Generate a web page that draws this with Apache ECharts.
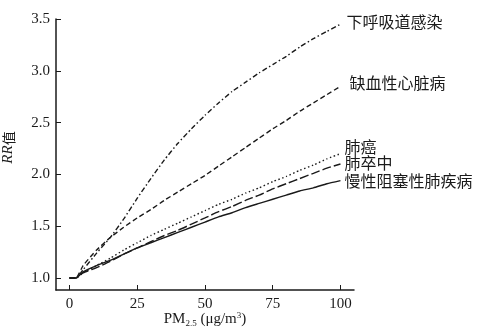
<!DOCTYPE html>
<html>
<head>
<meta charset="utf-8">
<script src="https://cdn.jsdelivr.net/npm/echarts@6/dist/echarts.min.js"></script>
<style>
  html, body { margin: 0; padding: 0; background: #fff; }
  #chart { width: 488px; height: 335px; }
</style>
</head>
<body>
<div id="chart"></div>
<script>
// PM2.5 浓度（μg/m3）
const pm25 = [0, 2.4, 5, 10, 15, 20, 25, 30, 35, 40, 45, 50, 55, 60, 65, 70, 75, 80, 85, 90, 95, 100];
// 各疾病 RR 值
const lri = [1.0, 1.0, 1.08, 1.24, 1.39, 1.57, 1.77, 1.96, 2.14, 2.30, 2.44, 2.57, 2.69, 2.80, 2.89, 2.98, 3.06, 3.14, 3.23, 3.31, 3.38, 3.45];
const ihd = [1.0, 1.0, 1.12, 1.27, 1.39, 1.49, 1.58, 1.66, 1.75, 1.83, 1.91, 1.99, 2.08, 2.17, 2.26, 2.35, 2.44, 2.52, 2.61, 2.69, 2.77, 2.85];
const lungCancer = [1.0, 1.0, 1.05, 1.12, 1.19, 1.27, 1.34, 1.41, 1.47, 1.53, 1.59, 1.65, 1.71, 1.76, 1.82, 1.87, 1.93, 1.98, 2.04, 2.09, 2.15, 2.20];
const stroke = [1.0, 1.0, 1.05, 1.10, 1.16, 1.23, 1.29, 1.35, 1.41, 1.46, 1.52, 1.58, 1.64, 1.69, 1.75, 1.80, 1.86, 1.91, 1.96, 2.01, 2.06, 2.10];
const copd = [1.0, 1.0, 1.06, 1.12, 1.17, 1.23, 1.29, 1.34, 1.39, 1.44, 1.49, 1.54, 1.59, 1.63, 1.68, 1.72, 1.76, 1.80, 1.84, 1.87, 1.91, 1.94];
const names = ['下呼吸道感染', '缺血性心脏病', '肺癌', '肺卒中', '慢性阻塞性肺疾病'];
const xTicks = [0, 25, 50, 75, 100];
const yTicks = [1.0, 1.5, 2.0, 2.5, 3.0, 3.5];

const ink = '#1a1a1a';
const serif = '"Liberation Serif", "DejaVu Serif", serif';
const cjk = '"Noto Sans CJK SC", sans-serif';

function pairs (ys) {
  return pm25.map((x, i) => [x, ys[i]]);
}

function makeLine (name, ys, dash, width, offset) {
  return {
    name: name,
    type: 'line',
    smooth: 0.15,
    symbol: 'none',
    data: pairs(ys),
    lineStyle: { color: ink, width: width, type: dash },
    endLabel: {
      show: true,
      formatter: '{a}',
      distance: 4,
      offset: offset,
      color: ink,
      fontFamily: cjk,
      fontSize: 16
    }
  };
}

let myChart = echarts.init(document.getElementById('chart'));
myChart.setOption({
  backgroundColor: '#fff',
  animation: false,
  grid: { left: 56, right: 134, top: 19, bottom: 45, outerBoundsMode: 'none' },
  xAxis: {
    type: 'value',
    min: -5,
    max: 105,
    name: '{a|PM}{sub|2.5}{a| (μg/m}{sup|3}{a|)}',
    nameLocation: 'middle',
    nameGap: 21,
    nameMoveOverlap: false,
    nameTextStyle: {
      rich: {
        a: { fontFamily: serif, fontSize: 15, color: ink },
        sub: { fontFamily: serif, fontSize: 9, color: ink, padding: [8, 0, 0, 0] },
        sup: { fontFamily: serif, fontSize: 9, color: ink, padding: [0, 0, 7, 0] }
      }
    },
    splitLine: { show: false },
    axisLine: { onZero: false, lineStyle: { color: ink, width: 1.5 } },
    axisTick: { inside: true, length: 5, lineStyle: { color: ink }, customValues: xTicks },
    axisLabel: { color: ink, fontFamily: serif, fontSize: 15, margin: 7, customValues: xTicks }
  },
  yAxis: {
    type: 'value',
    min: 0.884,
    max: 3.5,
    name: '{i|RR}{c|值}',
    nameLocation: 'middle',
    nameRotate: 90,
    nameGap: 40,
    nameMoveOverlap: false,
    nameTextStyle: {
      padding: [0, 0, 0, 14],
      rich: {
        i: { fontFamily: serif, fontStyle: 'italic', fontSize: 15, color: ink },
        c: { fontFamily: cjk, fontSize: 14, color: ink }
      }
    },
    splitLine: { show: false },
    axisLine: { show: true, onZero: false, lineStyle: { color: ink, width: 1.5 } },
    axisTick: { show: true, inside: true, length: 5, lineStyle: { color: ink }, customValues: yTicks },
    axisLabel: {
      color: ink, fontFamily: serif, fontSize: 15, margin: 6,
      customValues: yTicks,
      formatter: v => v.toFixed(1)
    }
  },
  series: [
    makeLine(names[0], lri, [5, 2.5, 1.5, 2.5], 1.4, [2, -2]),
    makeLine(names[1], ihd, [5, 3], 1.4, [5, -3]),
    makeLine(names[2], lungCancer, [1.5, 2.5], 1.4, [0, -7]),
    makeLine(names[3], stroke, [9, 3], 1.4, [0, -1]),
    makeLine(names[4], copd, 'solid', 1.4, [0, 0])
  ]
});
window.addEventListener('resize', function () {
  myChart.resize();
});
</script>
</body>
</html>
